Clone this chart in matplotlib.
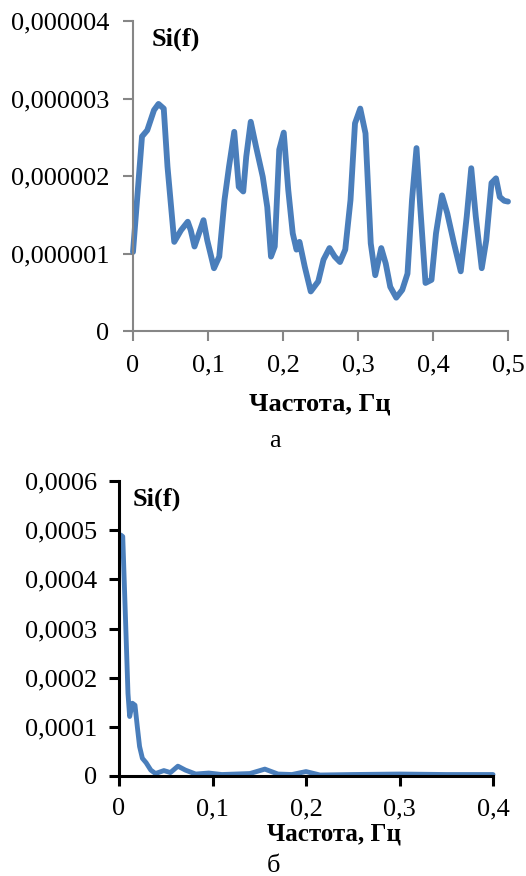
import matplotlib
matplotlib.use('Agg')
import matplotlib.pyplot as plt

# Спектр (а): частота, Гц и Si(f)
freq_a = [0.0, 0.012, 0.019, 0.028, 0.034, 0.041, 0.046, 0.055, 0.064, 0.073,
          0.077, 0.082, 0.088, 0.094, 0.099, 0.108, 0.115, 0.122, 0.128, 0.135,
          0.141, 0.147, 0.151, 0.157, 0.164, 0.173, 0.179, 0.184, 0.189, 0.195,
          0.201, 0.207, 0.213, 0.218, 0.222, 0.229, 0.237, 0.247, 0.254, 0.262,
          0.269, 0.276, 0.283, 0.290, 0.296, 0.303, 0.310, 0.317, 0.323, 0.331,
          0.337, 0.343, 0.351, 0.359, 0.366, 0.372, 0.378, 0.383, 0.390, 0.398,
          0.404, 0.412, 0.419, 0.428, 0.437, 0.445, 0.451, 0.457, 0.465, 0.471,
          0.478, 0.484, 0.489, 0.495, 0.500]
si_a = [1.02, 2.51, 2.59, 2.85, 2.93, 2.87, 2.12, 1.15, 1.30, 1.41,
        1.30, 1.09, 1.26, 1.43, 1.17, 0.81, 0.96, 1.69, 2.12, 2.57,
        1.86, 1.80, 2.25, 2.70, 2.38, 1.99, 1.60, 0.96, 1.09, 2.34,
        2.56, 1.82, 1.26, 1.05, 1.15, 0.83, 0.51, 0.64, 0.92, 1.07,
        0.96, 0.89, 1.05, 1.69, 2.68, 2.87, 2.55, 1.13, 0.72, 1.07,
        0.87, 0.57, 0.43, 0.53, 0.74, 1.69, 2.36, 1.60, 0.62, 0.66,
        1.26, 1.75, 1.52, 1.13, 0.77, 1.48, 2.10, 1.48, 0.81, 1.17,
        1.91, 1.97, 1.73, 1.68, 1.67]
si_a = [v * 1e-6 for v in si_a]

# Спектр (б)
freq_b = [0.002, 0.004, 0.007, 0.0096, 0.0114, 0.0143, 0.0171, 0.0196, 0.022, 0.025,
          0.029, 0.034, 0.039, 0.048, 0.055, 0.063, 0.071, 0.082, 0.096, 0.11,
          0.125, 0.14, 0.156, 0.17, 0.185, 0.2, 0.215, 0.25, 0.3, 0.35, 0.4]
si_b = [4.90, 4.87, 3.17, 1.68, 1.21, 1.48, 1.44, 1.00, 0.60, 0.36,
        0.27, 0.12, 0.05, 0.11, 0.07, 0.20, 0.12, 0.04, 0.06, 0.03,
        0.04, 0.05, 0.14, 0.04, 0.03, 0.09, 0.02, 0.03, 0.04, 0.03, 0.03]
si_b = [v * 1e-4 for v in si_b]

ticks_a = [0, 1e-6, 2e-6, 3e-6, 4e-6]
labels_a = ['0', '0,000001', '0,000002', '0,000003', '0,000004']
xt_a = [0, 0.1, 0.2, 0.3, 0.4, 0.5]
xl_a = ['0', '0,1', '0,2', '0,3', '0,4', '0,5']

ticks_b = [0, 1e-4, 2e-4, 3e-4, 4e-4, 5e-4, 6e-4]
labels_b = ['0', '0,0001', '0,0002', '0,0003', '0,0004', '0,0005', '0,0006']
xt_b = [0, 0.1, 0.2, 0.3, 0.4]
xl_b = ['0', '0,1', '0,2', '0,3', '0,4']

line_color = '#4A7EBB'
plt.rcParams['font.family'] = ['Liberation Serif', 'DejaVu Serif']
fs = 19

fig = plt.figure(figsize=(5.26, 8.76), dpi=100)

# --- верхний график (а)
ax1 = fig.add_axes([133 / 526, 1 - 331 / 876, 375 / 526, 310 / 876])
ax1.plot(freq_a, si_a, color=line_color, lw=4.2, solid_joinstyle='round',
         solid_capstyle='round', clip_on=False)
ax1.set_xlim(0, 0.5)
ax1.set_ylim(0, 4e-6)
ax1.set_yticks(ticks_a)
ax1.set_yticklabels(labels_a)
ax1.set_xticks(xt_a)
ax1.set_xticklabels(xl_a)
for s in ['top', 'right']:
    ax1.spines[s].set_visible(False)
for s in ['left', 'bottom']:
    ax1.spines[s].set_color('#868686')
    ax1.spines[s].set_linewidth(1.5)
ax1.tick_params(direction='out', length=7, width=1.5, color='#868686',
                labelsize=fs, pad=10)
fig.text(152 / 526, 1 - 39 / 876, 'Si(f)', ha='left', va='center',
         fontsize=fs, fontweight='bold')
fig.text(320 / 526, 1 - 404 / 876, 'Частота, Гц', ha='center', va='center',
         fontsize=fs, fontweight='bold')
fig.text(275 / 526, 1 - 441 / 876, 'а', ha='center', va='center', fontsize=fs)

# --- нижний график (б)
ax2 = fig.add_axes([119 / 526, 1 - 776 / 876, 374 / 526, 295 / 876])
ax2.plot(freq_b, si_b, color=line_color, lw=3.5, solid_joinstyle='round',
         solid_capstyle='round', clip_on=False)
ax2.set_xlim(0, 0.4)
ax2.set_ylim(0, 6e-4)
ax2.set_yticks(ticks_b)
ax2.set_yticklabels(labels_b)
ax2.set_xticks(xt_b)
ax2.set_xticklabels(xl_b)
for s in ['top', 'right']:
    ax2.spines[s].set_visible(False)
for s in ['left', 'bottom']:
    ax2.spines[s].set_color('black')
    ax2.spines[s].set_linewidth(2.2)
ax2.tick_params(direction='out', length=7, width=2.2, color='black',
                labelsize=fs, pad=9)
fig.text(133 / 526, 1 - 499 / 876, 'Si(f)', ha='left', va='center',
         fontsize=fs, fontweight='bold')
fig.text(334 / 526, 1 - 834 / 876, 'Частота, Гц', ha='center', va='center',
         fontsize=18, fontweight='bold')
fig.text(273 / 526, 1 - 866 / 876, 'б', ha='center', va='center', fontsize=fs)

fig.savefig('out.png', dpi=100)
